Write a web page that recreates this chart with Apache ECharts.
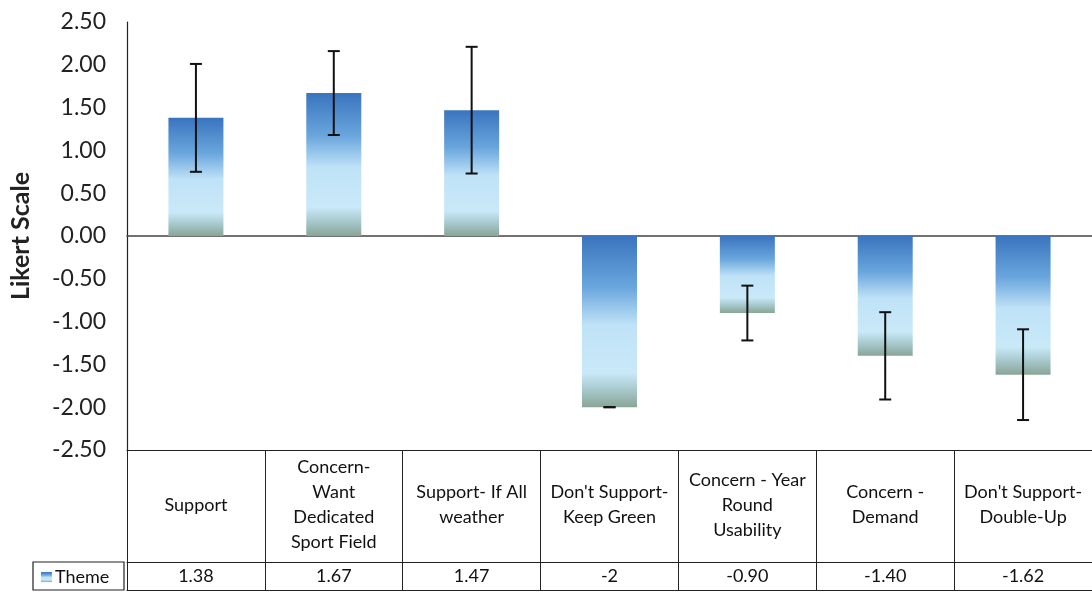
<!DOCTYPE html>
<html>
<head>
<meta charset="utf-8">
<script src="https://cdn.jsdelivr.net/npm/echarts@6/dist/echarts.min.js"></script>
<style>html,body{margin:0;padding:0;background:#fff}#c{width:1092px;height:594px}</style>
</head>
<body>
<div id="c"></div>
<script>
const categories = ['Support', 'Concern-\nWant\nDedicated\nSport Field', 'Support- If All\nweather', "Don't Support-\nKeep Green", 'Concern - Year\nRound\nUsability', 'Concern -\nDemand', "Don't Support-\nDouble-Up"];
const values = [1.38, 1.67, 1.47, -2, -0.90, -1.40, -1.62];
const valueLabels = ['1.38', '1.67', '1.47', '-2', '-0.90', '-1.40', '-1.62'];
const errors = [0.63, 0.49, 0.74, 0.0, 0.32, 0.51, 0.53];
const seriesName = 'Theme';
const yTitle = 'Likert Scale';

const FONT = 'Lato, "Liberation Sans", sans-serif';
const chart = echarts.init(document.getElementById('c'));

const barColor = new echarts.graphic.LinearGradient(0, 0, 0, 1, [
  {offset: 0, color: '#3a74bf'},
  {offset: 0.3, color: '#6aa6dd'},
  {offset: 0.52, color: '#bfe2f7'},
  {offset: 0.8, color: '#c9e9f8'},
  {offset: 0.9, color: '#a6c8cc'},
  {offset: 1, color: '#8aa595'}
]);

chart.setOption({
  animation: false,
  textStyle: {fontFamily: FONT},
  grid: {left: 124, right: 0, top: 22, bottom: 144, containLabel: false},
  legend: {
    data: [seriesName], left: 36, top: 563, itemWidth: 11, itemHeight: 10, itemGap: 4,
    icon: 'rect', textStyle: {fontSize: 18, color: '#111', fontFamily: FONT, padding: [0,0,0,-2]}
  },
  xAxis: [
    {type: 'category', data: categories, position: 'bottom',
     axisLine: {onZero: true, lineStyle: {color: '#444', width: 1.5}},
     axisTick: {show: false}, axisLabel: {show: false}},
    {type: 'category', data: categories, position: 'bottom', offset: 0,
     axisLine: {onZero: false, lineStyle: {color: '#222', width: 1.2}},
     axisTick: {show: true, length: 140, alignWithLabel: false, interval: 0, lineStyle: {color: '#222', width: 1}},
     axisLabel: {interval: 0, margin: 55, verticalAlign: 'middle', fontSize: 18, lineHeight: 25, color: '#111', fontFamily: FONT}},
    {type: 'category', data: valueLabels, position: 'bottom', offset: 112,
     axisLine: {onZero: false, lineStyle: {color: '#222', width: 1.2}},
     axisTick: {show: false},
     axisLabel: {interval: 0, margin: 14, verticalAlign: 'middle', fontSize: 18, color: '#111', fontFamily: FONT}},
    {type: 'category', data: categories, position: 'bottom', offset: 140,
     axisLine: {onZero: false, lineStyle: {color: '#222', width: 1.2}},
     axisTick: {show: false}, axisLabel: {show: false}}
  ],
  yAxis: {
    type: 'value', min: -2.5, max: 2.5, interval: 0.5,
    name: yTitle, nameLocation: 'middle', nameRotate: 90, nameGap: 94,
    nameTextStyle: {fontSize: 25, fontWeight: 'bold', color: '#222', fontFamily: FONT},
    axisLine: {show: true, lineStyle: {color: '#222', width: 1.2}},
    axisTick: {show: false}, splitLine: {show: false},
    axisLabel: {fontSize: 23, color: '#222', margin: 21, fontFamily: FONT, formatter: v => v.toFixed(2)}
  },
  series: [
    {name: seriesName, type: 'bar', data: values, barWidth: 55, xAxisIndex: 0,
     itemStyle: {color: barColor}},
    {name: 'err', type: 'custom', xAxisIndex: 0, z: 5,
     data: values.map((v, i) => [i, v, errors[i]]),
     encode: {x: 0, y: 1},
     renderItem: function (params, api) {
       const i = api.value(0), v = api.value(1), e = api.value(2);
       const hi = api.coord([i, v + e]);
       const lo = api.coord([i, v - e]);
       const hw = 6;
       const st = {stroke: '#111', lineWidth: 2};
       return {type: 'group', children: [
         {type: 'line', shape: {x1: hi[0], y1: hi[1], x2: lo[0], y2: lo[1]}, style: st},
         {type: 'line', shape: {x1: hi[0]-hw, y1: hi[1], x2: hi[0]+hw, y2: hi[1]}, style: st},
         {type: 'line', shape: {x1: lo[0]-hw, y1: lo[1], x2: lo[0]+hw, y2: lo[1]}, style: st}
       ]};
     }}
  ],
  graphic: [
    {type: 'rect', shape: {x: 33, y: 562, width: 91, height: 28}, style: {fill: 'none', stroke: '#222', lineWidth: 1.2}, silent: true}
  ]
});
</script>
</body>
</html>
